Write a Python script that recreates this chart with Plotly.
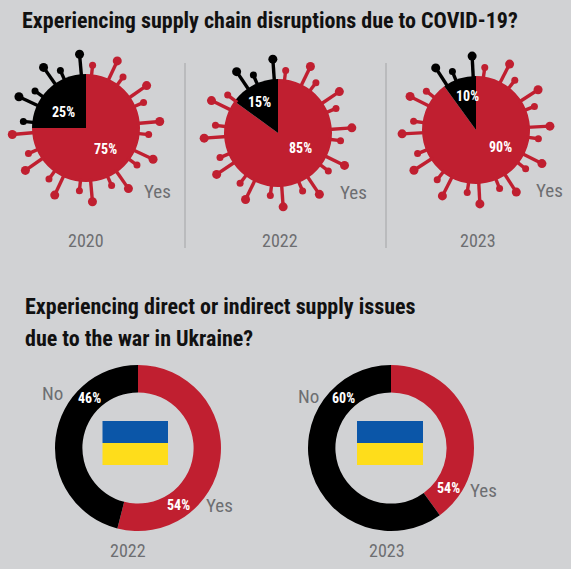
import plotly.graph_objects as go

W, H = 571, 569

# ---------------- data ----------------
covid_years = ["2020", "2022", "2023"]
covid_yes = [75, 85, 90]
covid_no = [25, 15, 10]

ukraine_years = ["2022", "2023"]
ukraine_yes = [54, 40]          # share of the ring drawn red
ukraine_no = [46, 60]
ukraine_yes_labels = ["54%", "54%"]   # labels as printed in the source
ukraine_no_labels = ["46%", "60%"]

title_1 = "Experiencing supply chain disruptions due to COVID-19?"
title_2_lines = ["Experiencing direct or indirect supply issues", "due to the war in Ukraine?"]

# ---------------- style ----------------
BG = "#d1d2d4"
RED = "#c01f30"
BLACK = "#000000"
GREY = "#6d6e71"
BLUE = "#0b56a8"
YELLOW = "#fedd1b"
FONT = "Roboto Condensed, DejaVu Sans Condensed, sans-serif"


def fx(x):
    return x / W


def fy(y):
    return 1 - y / H


virus_centers = [(86, 128), (278, 133), (476, 130)]
spike_rot = [-5, -4, -3]
P = 82          # half size of polar domain in px (radial range = px)
R_BODY = 54
R_LONG = 74
R_SHORT = 63

fig = go.Figure()
layout_polar = {}

for i, (yr, yes, no) in enumerate(zip(covid_years, covid_yes, covid_no)):
    cx, cy = virus_centers[i]
    sub = "polar" if i == 0 else f"polar{i+1}"
    layout_polar[sub] = dict(
        domain=dict(x=[fx(cx - P), fx(cx + P)], y=[fy(cy + P), fy(cy - P)]),
        bgcolor="rgba(0,0,0,0)",
        radialaxis=dict(visible=False, range=[0, P]),
        angularaxis=dict(visible=False, rotation=90, direction="clockwise"),
    )
    boundary = 360 - no * 3.6
    # body slices
    fig.add_trace(go.Barpolar(
        r=[R_BODY, R_BODY],
        theta=[yes * 3.6 / 2, 360 - no * 3.6 / 2],
        width=[yes * 3.6, no * 3.6],
        marker=dict(color=[RED, BLACK], line=dict(width=0)),
        subplot=sub, showlegend=False, hoverinfo="skip",
    ))
    # spikes
    for tip, off, msize in ((R_LONG, 0, 9), (R_SHORT, 11, 7)):
        for col in (RED, BLACK):
            rr, tt, mr, mt = [], [], [], []
            for k in range(12):
                a = (spike_rot[i] + off + 30 * k) % 360
                is_black = a > boundary + 1.5
                if (col == BLACK) != is_black:
                    continue
                rr += [R_BODY - 3, tip, None]
                tt += [a, a, None]
                mr.append(tip)
                mt.append(a)
            if not mr:
                continue
            fig.add_trace(go.Scatterpolar(
                r=rr, theta=tt, mode="lines",
                line=dict(color=col, width=3.4),
                subplot=sub, showlegend=False, hoverinfo="skip",
            ))
            fig.add_trace(go.Scatterpolar(
                r=mr, theta=mt, mode="markers",
                marker=dict(color=col, size=msize, line=dict(width=0)),
                subplot=sub, showlegend=False, hoverinfo="skip",
            ))

# donuts
donut_centers = [(138, 448), (391, 448)]
RD = 83
for i, (yr, yes, no) in enumerate(zip(ukraine_years, ukraine_yes, ukraine_no)):
    cx, cy = donut_centers[i]
    fig.add_trace(go.Pie(
        values=[yes, no], labels=["Yes", "No"], sort=False,
        direction="clockwise", rotation=0, hole=0.67,
        marker=dict(colors=[RED, BLACK], line=dict(width=0)),
        textinfo="none", hoverinfo="skip", showlegend=False,
        domain=dict(x=[fx(cx - RD), fx(cx + RD)], y=[fy(cy + RD), fy(cy - RD)]),
    ))

shapes = []
# separators
for x in (185, 386):
    shapes.append(dict(type="line", xref="paper", yref="paper",
                       x0=fx(x), x1=fx(x), y0=fy(63), y1=fy(248),
                       line=dict(color="#a3a4a6", width=1)))
# flags
flag_boxes = [(102.5, 168), (357, 423)]
for x0, x1 in flag_boxes:
    shapes.append(dict(type="rect", xref="paper", yref="paper",
                       x0=fx(x0), x1=fx(x1), y0=fy(443), y1=fy(421),
                       fillcolor=BLUE, line=dict(width=0)))
    shapes.append(dict(type="rect", xref="paper", yref="paper",
                       x0=fx(x0), x1=fx(x1), y0=fy(465), y1=fy(443),
                       fillcolor=YELLOW, line=dict(width=0)))

ann = []


def add_text(text, x, y, size, color, bold=False, xanchor="center", yanchor="middle"):
    ann.append(dict(text=f"<b>{text}</b>" if bold else text, x=fx(x), y=fy(y),
                    xref="paper", yref="paper", showarrow=False,
                    xanchor=xanchor, yanchor=yanchor,
                    font=dict(family=FONT, size=size, color=color)))


add_text(title_1, 20, 21, 22, "#111111", bold=True, xanchor="left")
add_text(title_2_lines[0], 23, 306, 22, "#111111", bold=True, xanchor="left")
add_text(title_2_lines[1], 23, 338, 22, "#111111", bold=True, xanchor="left")

covid_no_pos = [(63, 112), (259, 102), (467, 96)]
covid_yes_pos = [(106, 149), (300, 148), (500, 147)]
yes_pos = [(157, 191), (353, 192), (549, 190)]
year_pos = [(86, 240), (280, 240), (478, 240)]
for i in range(3):
    add_text(f"{covid_no[i]}%", *covid_no_pos[i], 14, "white", bold=True)
    add_text(f"{covid_yes[i]}%", *covid_yes_pos[i], 14, "white", bold=True)
    add_text("Yes", *yes_pos[i], 19, GREY)
    add_text(covid_years[i], *year_pos[i], 18, GREY)

d_no_pos = [(53, 393), (308, 396)]
d_nopct_pos = [(90, 398), (343, 398)]
d_yespct_pos = [(178, 505), (448, 488)]
d_yes_pos = [(220, 505), (483, 490)]
d_year_pos = [(128, 550), (387, 550)]
for i in range(2):
    add_text("No", *d_no_pos[i], 19, GREY)
    add_text(ukraine_no_labels[i], *d_nopct_pos[i], 14, "white", bold=True)
    add_text(ukraine_yes_labels[i], *d_yespct_pos[i], 14, "white", bold=True)
    add_text("Yes", *d_yes_pos[i], 19, GREY)
    add_text(ukraine_years[i], *d_year_pos[i], 18, GREY)

fig.update_layout(
    width=W, height=H,
    margin=dict(l=0, r=0, t=0, b=0),
    paper_bgcolor=BG, plot_bgcolor=BG,
    showlegend=False,
    shapes=shapes, annotations=ann,
    **layout_polar,
)

fig.write_html("out.html", config={"displayModeBar": False},
               post_script="document.body.style.margin='0';document.body.style.overflow='hidden';")
